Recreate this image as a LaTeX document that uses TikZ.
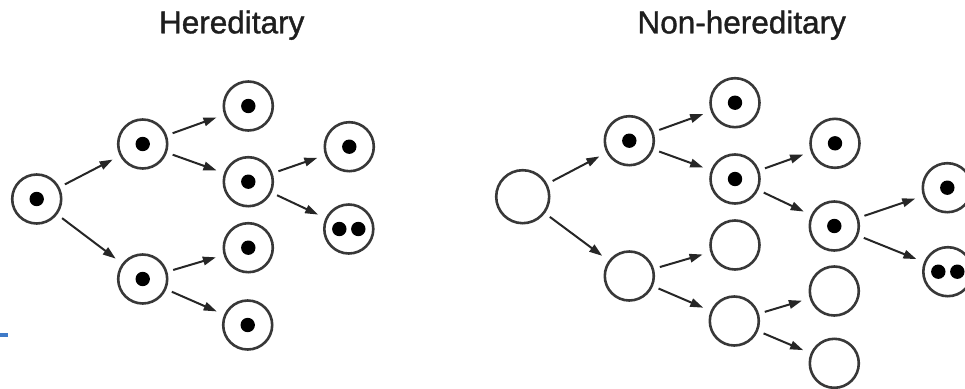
\documentclass[tikz,border=0pt]{standalone}
\usepackage{fontspec}
\setmainfont{Liberation Sans}
\newfontfamily\titlefont[FakeBold=1.2]{Liberation Sans}
\usetikzlibrary{arrows.meta}
\definecolor{ringgray}{HTML}{383838}
\definecolor{textgray}{HTML}{1E1E1E}
\definecolor{markblue}{HTML}{3F7AC8}
\tikzset{
  cell/.style={circle, draw=ringgray, line width=2.6pt, minimum size=49pt, inner sep=0pt},
  bigcell/.style={cell, minimum size=53pt},
  link/.style={line width=2pt, draw=black!85, -{Triangle[length=13pt,width=8.5pt]}, shorten <=6pt, shorten >=8pt},
  title/.style={font=\titlefont\fontsize{31.5}{36}\selectfont, text=textgray, anchor=base, inner sep=0pt}
}
\newcommand{\onedot}[1]{\fill[black] (#1) circle (7.2pt);}
\newcommand{\twodot}[1]{\fill[black] ([xshift=-9.5pt]#1.center) circle (7.2pt); \fill[black] ([xshift=9.5pt]#1.center) circle (7.2pt);}
\begin{document}
\begin{tikzpicture}[x=1pt,y=-1pt]
\useasboundingbox (0,0) rectangle (965,388);
\fill[markblue] (0,333) rectangle (8,337);
% titles
\node[title] (t1) at (231.7,33.3) {Hereditary};
\node[title] (t2) at (741.7,33.3) {Non-hereditary};
% left tree
\node[cell] (l0) at (36.7,199) {};
\node[cell] (la) at (142.7,144) {};
\node[cell] (lb) at (142.7,279) {};
\node[cell] (lc) at (248.3,106) {};
\node[cell] (ld) at (248.3,181.7) {};
\node[cell] (le) at (248.3,247.7) {};
\node[cell] (lf) at (247.7,325) {};
\node[cell] (lg) at (349.3,146.7) {};
\node[cell] (lh) at (348.8,229) {};
\foreach \n in {l0,la,lb,lc,ld,le,lf,lg} {\onedot{\n}}
\twodot{lh}
\draw[link] (l0) -- (la);
\draw[link] (l0) -- (lb);
\draw[link] (la) -- (lc);
\draw[link] (la) -- (ld);
\draw[link] (lb) -- (le);
\draw[link] (lb) -- (lf);
\draw[link] (ld) -- (lg);
\draw[link] (ld) -- (lh);
% right tree
\node[bigcell] (r0) at (522.7,196.7) {};
\node[cell] (ra) at (629.3,140.7) {};
\node[cell] (rb) at (629.3,276) {};
\node[cell] (rc) at (735,102.7) {};
\node[cell] (rd) at (735,179) {};
\node[cell] (re) at (735,245) {};
\node[cell] (rf) at (734.3,321) {};
\node[cell] (rg) at (835,143.3) {};
\node[cell] (rh) at (834.3,226) {};
\node[cell] (ri) at (834.3,291) {};
\node[cell] (rj) at (834.3,363.3) {};
\node[cell] (rk) at (947.3,187.7) {};
\node[cell] (rl) at (947.8,271.7) {};
\foreach \n in {ra,rc,rd,rg,rh,rk} {\onedot{\n}}
\twodot{rl}
\draw[link] (r0) -- (ra);
\draw[link] (r0) -- (rb);
\draw[link] (ra) -- (rc);
\draw[link] (ra) -- (rd);
\draw[link] (rb) -- (re);
\draw[link] (rb) -- (rf);
\draw[link] (rd) -- (rg);
\draw[link] (rd) -- (rh);
\draw[link] (rf) -- (ri);
\draw[link] (rf) -- (rj);
\draw[link] (rh) -- (rk);
\draw[link] (rh) -- (rl);
\end{tikzpicture}
\end{document}
